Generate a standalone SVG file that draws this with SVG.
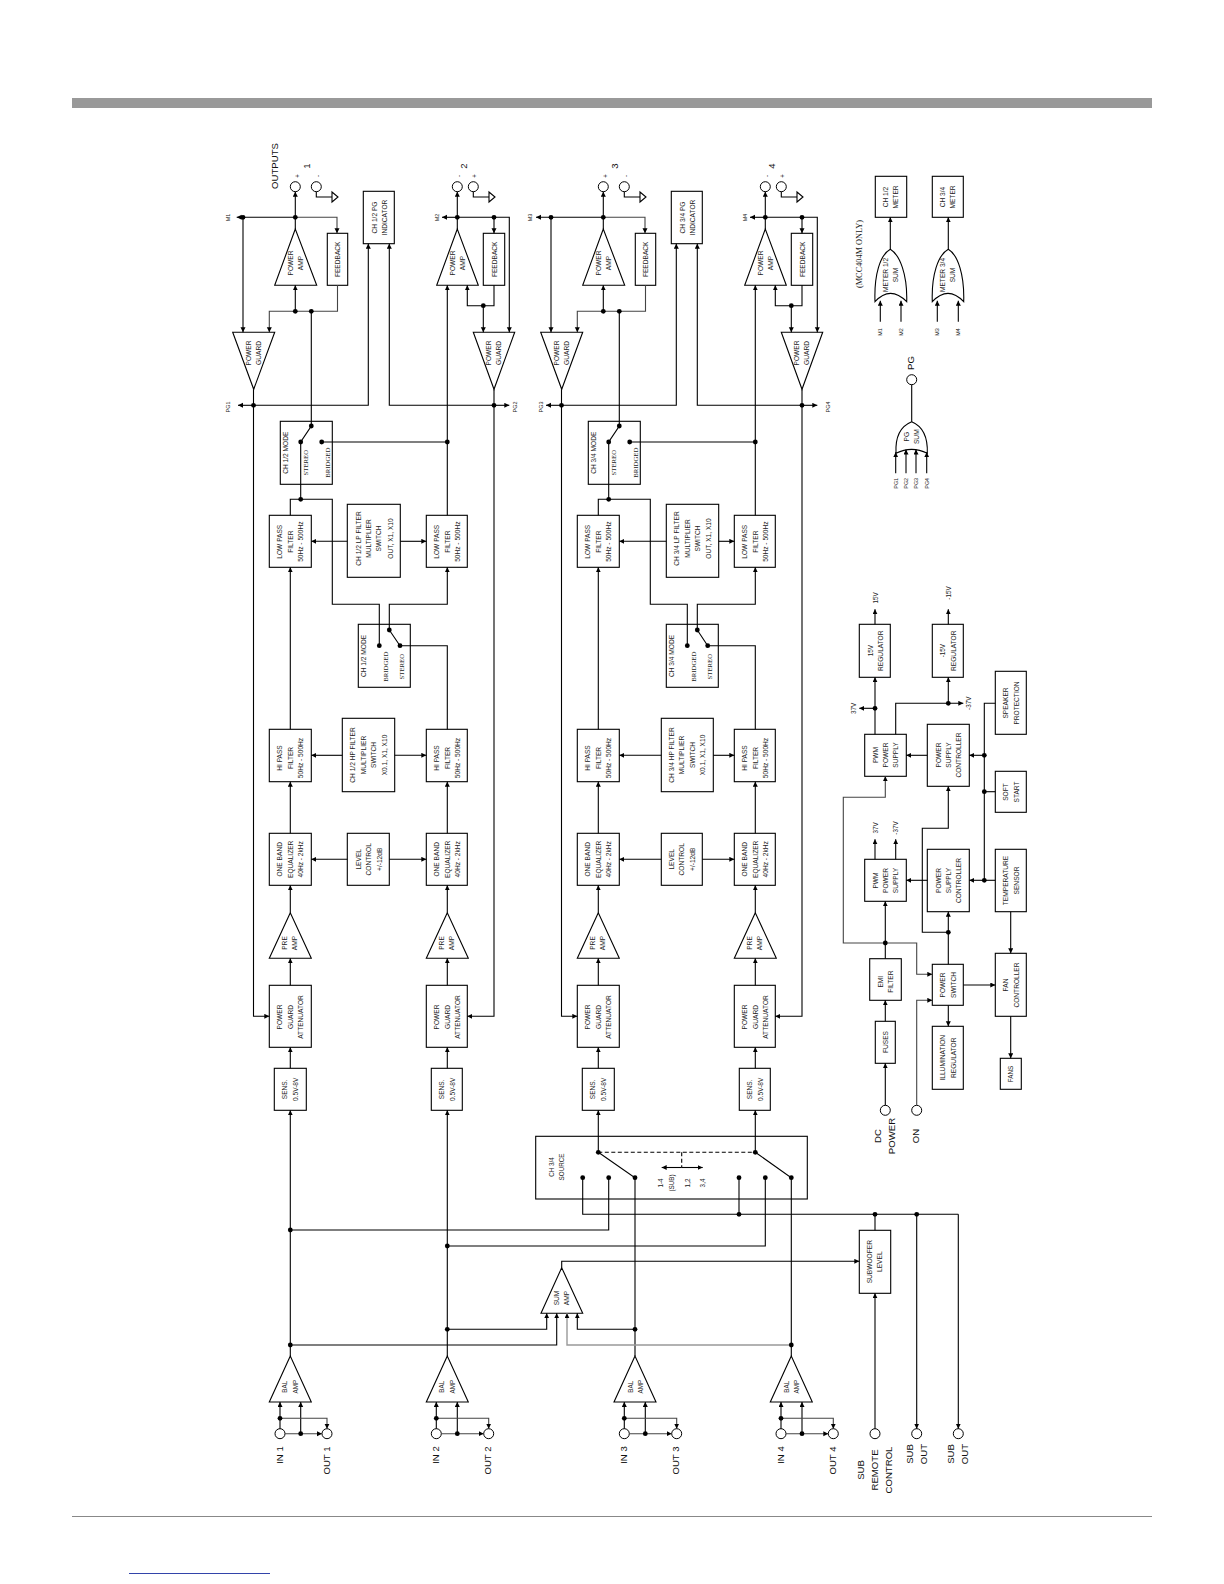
<svg xmlns="http://www.w3.org/2000/svg" width="1224" height="1584" viewBox="0 0 1224 1584">
<style>
text{font-family:"Liberation Sans",Arial,sans-serif;font-size:6.6px;fill:#222;text-anchor:middle;dominant-baseline:central}
.s{font-size:6.3px}
.p{font-size:5.4px}
.r{font-family:"Liberation Serif","Times New Roman",serif;font-size:6.8px}
.b{font-size:9.6px;fill:#111;dominant-baseline:middle}
.m{font-family:"Liberation Serif","Times New Roman",serif;font-size:8.3px}
rect,polygon,.g{fill:none;stroke:#000;stroke-width:1.1}
.k{fill:#fff;stroke:#000;stroke-width:1}
#connectors path{fill:none;stroke:#000;stroke-width:1.1}
#connectors .a{marker-end:url(#ar)}
#connectors .n{stroke:#444}
#connectors .h{stroke:#999;stroke-width:1.4}
#connectors .d{stroke-dasharray:4 2.5}
#connectors circle{fill:#000;stroke:none}
</style>
<defs>
<marker id="ar" markerUnits="userSpaceOnUse" markerWidth="6" markerHeight="6" refX="5" refY="2.5" orient="auto"><path d="M0 0L5 2.5L0 5Z" fill="#000" stroke="none"/></marker>
</defs>
<rect id="header-bar" x="72" y="98" width="1080" height="10" style="fill:#999;stroke:none"/>
<path id="footer-line" d="M72 1516.5H1152" fill="none" stroke="#888" stroke-width="1"/>
<path id="footer-link" d="M129 1573.5H270" fill="none" stroke="#3344aa" stroke-width="1"/>

<g id="outputs-1"><text class="b" transform="translate(275 166) rotate(-90)">OUTPUTS</text><text class="b" transform="translate(307 166) rotate(-90)">1</text><text class="s" transform="translate(297 176) rotate(-90)">+</text><text class="s" transform="translate(317 176) rotate(-90)">-</text><circle class="k" cx="295.3" cy="186.7" r="5"/><circle class="k" cx="316.3" cy="186.7" r="5"/><polygon points="332,192 332,202 338,197"/></g>
<g id="outputs-2"><text class="b" transform="translate(464 166) rotate(-90)">2</text><text class="s" transform="translate(458 176) rotate(-90)">-</text><text class="s" transform="translate(474 176) rotate(-90)">+</text><circle class="k" cx="457.3" cy="186.7" r="5"/><circle class="k" cx="473.3" cy="186.7" r="5"/><polygon points="489,192 489,202 495,197"/></g>
<g id="outputs-3"><text class="b" transform="translate(615 166) rotate(-90)">3</text><text class="s" transform="translate(605 176) rotate(-90)">+</text><text class="s" transform="translate(625 176) rotate(-90)">-</text><circle class="k" cx="603.3" cy="186.7" r="5"/><circle class="k" cx="624.3" cy="186.7" r="5"/><polygon points="640,192 640,202 646,197"/></g>
<g id="outputs-4"><text class="b" transform="translate(772 166) rotate(-90)">4</text><text class="s" transform="translate(766 176) rotate(-90)">-</text><text class="s" transform="translate(782 176) rotate(-90)">+</text><circle class="k" cx="765.3" cy="186.7" r="5"/><circle class="k" cx="781.3" cy="186.7" r="5"/><polygon points="797,192 797,202 803,197"/></g>

<g id="labels-mpg"><text class="p" transform="translate(228 217.5) rotate(-90)">M1</text><text class="p" transform="translate(436.7 217.5) rotate(-90)">M2</text><text class="p" transform="translate(530 217.5) rotate(-90)">M3</text><text class="p" transform="translate(745 217.5) rotate(-90)">M4</text><text class="p" transform="translate(228 407) rotate(-90)">PG1</text><text class="p" transform="translate(515 407) rotate(-90)">PG2</text><text class="p" transform="translate(541 407) rotate(-90)">PG3</text><text class="p" transform="translate(828 407) rotate(-90)">PG4</text></g>

<g id="power-amp-1"><polygon points="295.3,229 274.7,285.3 316.7,285.3"/><text transform="translate(290 263) rotate(-90)">POWER</text><text transform="translate(300.7 263) rotate(-90)">AMP</text></g>
<g id="power-amp-2"><polygon points="457.3,229 436.7,285.3 478.3,285.3"/><text transform="translate(452 263) rotate(-90)">POWER</text><text transform="translate(462.7 263) rotate(-90)">AMP</text></g>
<g id="power-amp-3"><polygon points="603.3,229 582.7,285.3 624.7,285.3"/><text transform="translate(598 263) rotate(-90)">POWER</text><text transform="translate(608.7 263) rotate(-90)">AMP</text></g>
<g id="power-amp-4"><polygon points="765.3,229 744.7,285.3 786.3,285.3"/><text transform="translate(760 263) rotate(-90)">POWER</text><text transform="translate(770.7 263) rotate(-90)">AMP</text></g>

<g id="feedback-1"><rect x="327.3" y="233.3" width="20.4" height="52"/><text transform="translate(337.5 259.3) rotate(-90)">FEEDBACK</text></g>
<g id="feedback-2"><rect x="483.3" y="233.3" width="21.4" height="52"/><text transform="translate(494 259.3) rotate(-90)">FEEDBACK</text></g>
<g id="feedback-3"><rect x="635.3" y="233.3" width="20.4" height="52"/><text transform="translate(645.5 259.3) rotate(-90)">FEEDBACK</text></g>
<g id="feedback-4"><rect x="791.3" y="233.3" width="21.4" height="52"/><text transform="translate(802 259.3) rotate(-90)">FEEDBACK</text></g>

<g id="pg-indicator-12"><rect x="363.3" y="191.3" width="31" height="52.4"/><text transform="translate(374 217.5) rotate(-90)">CH 1/2 PG</text><text transform="translate(384 217.5) rotate(-90)">INDICATOR</text></g>
<g id="pg-indicator-34"><rect x="671.3" y="191.3" width="31" height="52.4"/><text transform="translate(682 217.5) rotate(-90)">CH 3/4 PG</text><text transform="translate(692 217.5) rotate(-90)">INDICATOR</text></g>

<g id="power-guard-1"><polygon points="232.7,332.3 274.7,332.3 253.7,389.3"/><text transform="translate(248 353) rotate(-90)">POWER</text><text transform="translate(258 353) rotate(-90)">GUARD</text></g>
<g id="power-guard-2"><polygon points="473.3,332.3 514.7,332.3 494,389.3"/><text transform="translate(488.5 353) rotate(-90)">POWER</text><text transform="translate(498.5 353) rotate(-90)">GUARD</text></g>
<g id="power-guard-3"><polygon points="540.7,332.3 582.7,332.3 561.7,389.3"/><text transform="translate(556 353) rotate(-90)">POWER</text><text transform="translate(566 353) rotate(-90)">GUARD</text></g>
<g id="power-guard-4"><polygon points="781.3,332.3 822.7,332.3 802,389.3"/><text transform="translate(796.5 353) rotate(-90)">POWER</text><text transform="translate(806.5 353) rotate(-90)">GUARD</text></g>

<g id="mode-12-a"><rect x="280.3" y="421.3" width="52" height="63"/><text transform="translate(285.5 452.7) rotate(-90)">CH 1/2 MODE</text><text class="r" transform="translate(305.7 462.7) rotate(-90)">STEREO</text><text class="r" transform="translate(327 462.7) rotate(-90)">BRIDGED</text></g>
<g id="mode-34-a"><rect x="588.3" y="421.3" width="52" height="63"/><text transform="translate(593.5 452.7) rotate(-90)">CH 3/4 MODE</text><text class="r" transform="translate(613.7 462.7) rotate(-90)">STEREO</text><text class="r" transform="translate(635 462.7) rotate(-90)">BRIDGED</text></g>
<g id="mode-12-b"><rect x="358.3" y="624.3" width="52" height="63"/><text transform="translate(363.5 656) rotate(-90)">CH 1/2 MODE</text><text class="r" transform="translate(385.7 666.7) rotate(-90)">BRIDGED</text><text class="r" transform="translate(401 666.7) rotate(-90)">STEREO</text></g>
<g id="mode-34-b"><rect x="666.3" y="624.3" width="52" height="63"/><text transform="translate(671 656) rotate(-90)">CH 3/4 MODE</text><text class="r" transform="translate(693.3 666.7) rotate(-90)">BRIDGED</text><text class="r" transform="translate(709.3 666.7) rotate(-90)">STEREO</text></g>

<g id="lpf-1"><rect x="269.3" y="515.3" width="42" height="52"/><text transform="translate(279.3 541.7) rotate(-90)">LOW PASS</text><text transform="translate(290 541.7) rotate(-90)">FILTER</text><text transform="translate(300.7 541.7) rotate(-90)">50Hz - 500Hz</text></g>
<g id="lpf-2"><rect x="426.3" y="515.3" width="41" height="52"/><text transform="translate(436.5 541.7) rotate(-90)">LOW PASS</text><text transform="translate(447 541.7) rotate(-90)">FILTER</text><text transform="translate(457.5 541.7) rotate(-90)">50Hz - 500Hz</text></g>
<g id="lpf-3"><rect x="577.3" y="515.3" width="42" height="52"/><text transform="translate(587.3 541.7) rotate(-90)">LOW PASS</text><text transform="translate(598 541.7) rotate(-90)">FILTER</text><text transform="translate(608.7 541.7) rotate(-90)">50Hz - 500Hz</text></g>
<g id="lpf-4"><rect x="734.3" y="515.3" width="41" height="52"/><text transform="translate(744.5 541.7) rotate(-90)">LOW PASS</text><text transform="translate(755 541.7) rotate(-90)">FILTER</text><text transform="translate(765.5 541.7) rotate(-90)">50Hz - 500Hz</text></g>

<g id="lp-mult-12"><rect x="347.3" y="504.3" width="53" height="73"/><text transform="translate(358.3 538.5) rotate(-90)">CH 1/2 LP FILTER</text><text transform="translate(368.5 538.5) rotate(-90)">MULTIPLIER</text><text transform="translate(378.5 538.5) rotate(-90)">SWITCH</text><text transform="translate(390 538.5) rotate(-90)">OUT, X1, X10</text></g>
<g id="lp-mult-34"><rect x="666.3" y="504.3" width="52.4" height="73"/><text transform="translate(676.7 538.5) rotate(-90)">CH 3/4 LP FILTER</text><text transform="translate(687.3 538.5) rotate(-90)">MULTIPLIER</text><text transform="translate(697.7 538.5) rotate(-90)">SWITCH</text><text transform="translate(708.3 538.5) rotate(-90)">OUT, X1, X10</text></g>

<g id="hpf-1"><rect x="269.3" y="729.3" width="42" height="52.4"/><text transform="translate(279.3 758) rotate(-90)">HI PASS</text><text transform="translate(290 758) rotate(-90)">FILTER</text><text transform="translate(300.7 758) rotate(-90)">50Hz - 500Hz</text></g>
<g id="hpf-2"><rect x="426.3" y="729.3" width="41" height="52.4"/><text transform="translate(436.5 758) rotate(-90)">HI PASS</text><text transform="translate(447 758) rotate(-90)">FILTER</text><text transform="translate(457.5 758) rotate(-90)">50Hz - 500Hz</text></g>
<g id="hpf-3"><rect x="577.3" y="729.3" width="42" height="52.4"/><text transform="translate(587.3 758) rotate(-90)">HI PASS</text><text transform="translate(598 758) rotate(-90)">FILTER</text><text transform="translate(608.7 758) rotate(-90)">50Hz - 500Hz</text></g>
<g id="hpf-4"><rect x="734.3" y="729.3" width="41" height="52.4"/><text transform="translate(744.5 758) rotate(-90)">HI PASS</text><text transform="translate(755 758) rotate(-90)">FILTER</text><text transform="translate(765.5 758) rotate(-90)">50Hz - 500Hz</text></g>

<g id="hp-mult-12"><rect x="342.3" y="718.3" width="52.4" height="73.4"/><text transform="translate(352.7 755) rotate(-90)">CH 1/2 HP FILTER</text><text transform="translate(363 755) rotate(-90)">MULTIPLIER</text><text transform="translate(373.5 755) rotate(-90)">SWITCH</text><text transform="translate(384 755) rotate(-90)">X0.1, X1, X10</text></g>
<g id="hp-mult-34"><rect x="661.3" y="718.3" width="52" height="73.4"/><text transform="translate(671.7 755) rotate(-90)">CH 3/4 HP FILTER</text><text transform="translate(681.7 755) rotate(-90)">MULTIPLIER</text><text transform="translate(692 755) rotate(-90)">SWITCH</text><text transform="translate(702.7 755) rotate(-90)">X0.1, X1, X10</text></g>

<g id="eq-1"><rect x="269.3" y="833.3" width="42" height="52"/><text transform="translate(279.3 859.3) rotate(-90)">ONE BAND</text><text transform="translate(290 859.3) rotate(-90)">EQUALIZER</text><text transform="translate(300.7 859.3) rotate(-90)">40Hz - 2kHz</text></g>
<g id="eq-2"><rect x="426.3" y="833.3" width="41" height="52"/><text transform="translate(436.5 859.3) rotate(-90)">ONE BAND</text><text transform="translate(447 859.3) rotate(-90)">EQUALIZER</text><text transform="translate(457.5 859.3) rotate(-90)">40Hz - 2kHz</text></g>
<g id="eq-3"><rect x="577.3" y="833.3" width="42" height="52"/><text transform="translate(587.3 859.3) rotate(-90)">ONE BAND</text><text transform="translate(598 859.3) rotate(-90)">EQUALIZER</text><text transform="translate(608.7 859.3) rotate(-90)">40Hz - 2kHz</text></g>
<g id="eq-4"><rect x="734.3" y="833.3" width="41" height="52"/><text transform="translate(744.5 859.3) rotate(-90)">ONE BAND</text><text transform="translate(755 859.3) rotate(-90)">EQUALIZER</text><text transform="translate(765.5 859.3) rotate(-90)">40Hz - 2kHz</text></g>

<g id="level-12"><rect x="347.3" y="833.3" width="42" height="52"/><text transform="translate(358 859.3) rotate(-90)">LEVEL</text><text transform="translate(368.7 859.3) rotate(-90)">CONTROL</text><text transform="translate(379.5 859.3) rotate(-90)">+/-12dB</text></g>
<g id="level-34"><rect x="661.3" y="833.3" width="41" height="52"/><text transform="translate(671.7 859.3) rotate(-90)">LEVEL</text><text transform="translate(681.7 859.3) rotate(-90)">CONTROL</text><text transform="translate(692.7 859.3) rotate(-90)">+/-12dB</text></g>

<g id="pre-1"><polygon points="290.3,912.7 269.3,958.3 311.3,958.3"/><text transform="translate(284.5 943) rotate(-90)">PRE</text><text transform="translate(294.5 943) rotate(-90)">AMP</text></g>
<g id="pre-2"><polygon points="447.3,912.7 426.3,958.3 468.3,958.3"/><text transform="translate(441.5 943) rotate(-90)">PRE</text><text transform="translate(451.5 943) rotate(-90)">AMP</text></g>
<g id="pre-3"><polygon points="598.3,912.7 577.3,958.3 619.3,958.3"/><text transform="translate(592.5 943) rotate(-90)">PRE</text><text transform="translate(602.5 943) rotate(-90)">AMP</text></g>
<g id="pre-4"><polygon points="755.3,912.7 734.3,958.3 776.3,958.3"/><text transform="translate(749.5 943) rotate(-90)">PRE</text><text transform="translate(759.5 943) rotate(-90)">AMP</text></g>

<g id="att-1"><rect x="269.3" y="985.3" width="42" height="62"/><text transform="translate(279.3 1017) rotate(-90)">POWER</text><text transform="translate(290 1017) rotate(-90)">GUARD</text><text transform="translate(300.7 1017) rotate(-90)">ATTENUATOR</text></g>
<g id="att-2"><rect x="426.3" y="985.3" width="41" height="62"/><text transform="translate(436.5 1017) rotate(-90)">POWER</text><text transform="translate(447 1017) rotate(-90)">GUARD</text><text transform="translate(457.5 1017) rotate(-90)">ATTENUATOR</text></g>
<g id="att-3"><rect x="577.3" y="985.3" width="42" height="62"/><text transform="translate(587.3 1017) rotate(-90)">POWER</text><text transform="translate(598 1017) rotate(-90)">GUARD</text><text transform="translate(608.7 1017) rotate(-90)">ATTENUATOR</text></g>
<g id="att-4"><rect x="734.3" y="985.3" width="41" height="62"/><text transform="translate(744.5 1017) rotate(-90)">POWER</text><text transform="translate(755 1017) rotate(-90)">GUARD</text><text transform="translate(765.5 1017) rotate(-90)">ATTENUATOR</text></g>

<g id="sens-1"><rect x="274.3" y="1068.3" width="32" height="42"/><text transform="translate(284.7 1089.3) rotate(-90)">SENS.</text><text transform="translate(295 1089.3) rotate(-90)">0.5V-8V</text></g>
<g id="sens-2"><rect x="431.3" y="1068.3" width="31" height="42"/><text transform="translate(441.7 1089.3) rotate(-90)">SENS.</text><text transform="translate(452 1089.3) rotate(-90)">0.5V-8V</text></g>
<g id="sens-3"><rect x="582.3" y="1068.3" width="32" height="42"/><text transform="translate(592.7 1089.3) rotate(-90)">SENS.</text><text transform="translate(603 1089.3) rotate(-90)">0.5V-8V</text></g>
<g id="sens-4"><rect x="739.3" y="1068.3" width="31" height="42"/><text transform="translate(749.7 1089.3) rotate(-90)">SENS.</text><text transform="translate(760 1089.3) rotate(-90)">0.5V-8V</text></g>

<g id="source-34"><rect x="535.7" y="1136.3" width="271.6" height="62.7"/><text class="s" transform="translate(551 1167) rotate(-90)">CH 3/4</text><text class="s" transform="translate(561 1167) rotate(-90)">SOURCE</text><text class="s" transform="translate(660.7 1183) rotate(-90)">1-4</text><text class="s" transform="translate(671 1183) rotate(-90)">(SUB)</text><text class="s" transform="translate(687 1183) rotate(-90)">1,2</text><text class="s" transform="translate(702 1183) rotate(-90)">3,4</text></g>

<g id="sum-amp"><polygon points="561.7,1267.7 541,1313.3 582.7,1313.3"/><text transform="translate(556.5 1298) rotate(-90)">SUM</text><text transform="translate(566.5 1298) rotate(-90)">AMP</text></g>
<g id="subwoofer-level"><rect x="859.3" y="1230.3" width="31.4" height="63"/><text transform="translate(869.5 1261.7) rotate(-90)">SUBWOOFER</text><text transform="translate(879.5 1261.7) rotate(-90)">LEVEL</text></g>

<g id="bal-1"><polygon points="290.3,1356 269.3,1402 311.3,1402"/><text class="s" transform="translate(284.5 1386.7) rotate(-90)">BAL</text><text class="s" transform="translate(295 1386.7) rotate(-90)">AMP</text></g>
<g id="bal-2"><polygon points="447.3,1356 426.3,1402 468.3,1402"/><text class="s" transform="translate(441.5 1386.7) rotate(-90)">BAL</text><text class="s" transform="translate(452 1386.7) rotate(-90)">AMP</text></g>
<g id="bal-3"><polygon points="635,1356 614,1402 656,1402"/><text class="s" transform="translate(630 1386.7) rotate(-90)">BAL</text><text class="s" transform="translate(640 1386.7) rotate(-90)">AMP</text></g>
<g id="bal-4"><polygon points="791.3,1356 770.3,1402 812.3,1402"/><text class="s" transform="translate(786 1386.7) rotate(-90)">BAL</text><text class="s" transform="translate(796.5 1386.7) rotate(-90)">AMP</text></g>

<g id="in-1"><circle class="k" cx="280" cy="1433.7" r="5"/><text class="b" transform="translate(280 1455) rotate(-90)">IN 1</text></g>
<g id="out-1"><circle class="k" cx="327" cy="1433.7" r="5"/><text class="b" transform="translate(327 1460.5) rotate(-90)">OUT 1</text></g>
<g id="in-2"><circle class="k" cx="436.3" cy="1433.7" r="5"/><text class="b" transform="translate(436.3 1455) rotate(-90)">IN 2</text></g>
<g id="out-2"><circle class="k" cx="488.7" cy="1433.7" r="5"/><text class="b" transform="translate(488.7 1460.5) rotate(-90)">OUT 2</text></g>
<g id="in-3"><circle class="k" cx="624.3" cy="1433.7" r="5"/><text class="b" transform="translate(624.3 1455) rotate(-90)">IN 3</text></g>
<g id="out-3"><circle class="k" cx="676.7" cy="1433.7" r="5"/><text class="b" transform="translate(676.7 1460.5) rotate(-90)">OUT 3</text></g>
<g id="in-4"><circle class="k" cx="781" cy="1433.7" r="5"/><text class="b" transform="translate(781 1455) rotate(-90)">IN 4</text></g>
<g id="out-4"><circle class="k" cx="833.3" cy="1433.7" r="5"/><text class="b" transform="translate(833.3 1460.5) rotate(-90)">OUT 4</text></g>
<g id="sub-remote"><circle class="k" cx="875" cy="1433.7" r="5"/><text class="b" transform="translate(861 1470) rotate(-90)">SUB</text><text class="b" transform="translate(875 1470) rotate(-90)">REMOTE</text><text class="b" transform="translate(889 1470) rotate(-90)">CONTROL</text></g>
<g id="sub-out-1"><circle class="k" cx="916.7" cy="1433.7" r="5"/><text class="b" transform="translate(910 1454) rotate(-90)">SUB</text><text class="b" transform="translate(924 1454) rotate(-90)">OUT</text></g>
<g id="sub-out-2"><circle class="k" cx="958.3" cy="1433.7" r="5"/><text class="b" transform="translate(951.7 1454) rotate(-90)">SUB</text><text class="b" transform="translate(965 1454) rotate(-90)">OUT</text></g>

<g id="meter-note"><text class="m" transform="translate(859.3 254) rotate(-90)">(MCC404M ONLY)</text></g>
<g id="meter-12"><rect x="875.3" y="176.3" width="31.4" height="41"/><text transform="translate(885.7 197) rotate(-90)">CH 1/2</text><text transform="translate(895.7 197) rotate(-90)">METER</text></g>
<g id="meter-34"><rect x="932.3" y="176.3" width="31" height="41"/><text transform="translate(942.5 197) rotate(-90)">CH 3/4</text><text transform="translate(952.7 197) rotate(-90)">METER</text></g>
<g id="meter-sum-12"><path class="g" d="M875 301.7C874 275 880 255 890.3 249.3C900 255 907.5 275 906.7 301.7Q890.3 285 875 301.7Z"/><text transform="translate(885 275) rotate(-90)">METER 1/2</text><text transform="translate(895.3 275) rotate(-90)">SUM</text><text class="p" transform="translate(880.3 332) rotate(-90)">M1</text><text class="p" transform="translate(900.5 332) rotate(-90)">M2</text></g>
<g id="meter-sum-34"><path class="g" d="M932.3 301.7C931.3 275 938 255 948.3 249.3C958 255 964.5 275 963.7 301.7Q948 285 932.3 301.7Z"/><text transform="translate(942 275) rotate(-90)">METER 3/4</text><text transform="translate(952.5 275) rotate(-90)">SUM</text><text class="p" transform="translate(937.3 332) rotate(-90)">M3</text><text class="p" transform="translate(958.3 332) rotate(-90)">M4</text></g>
<g id="pg-sum"><path class="g" d="M896 453.3C895 435 901 426 911.7 421.7C922 426 928 435 927.3 453.3Q911.7 445.5 896 453.3Z"/><text transform="translate(906 436.7) rotate(-90)">PG</text><text transform="translate(916.3 436.7) rotate(-90)">SUM</text><text class="p" transform="translate(895.7 483.3) rotate(-90)">PG1</text><text class="p" transform="translate(906 483.3) rotate(-90)">PG2</text><text class="p" transform="translate(916 483.3) rotate(-90)">PG3</text><text class="p" transform="translate(926.7 483.3) rotate(-90)">PG4</text></g>
<g id="pg-out"><circle class="k" cx="911.7" cy="379.7" r="5"/><text class="b" transform="translate(911.7 363) rotate(-90)">PG</text></g>

<g id="reg-15"><rect x="859.3" y="624.3" width="31" height="53"/><text class="s" transform="translate(870 650.7) rotate(-90)">15V</text><text transform="translate(880 650.7) rotate(-90)">REGULATOR</text></g>
<g id="reg-m15"><rect x="932.3" y="624.3" width="31" height="53"/><text class="s" transform="translate(942.6 650.7) rotate(-90)">-15V</text><text transform="translate(953 650.7) rotate(-90)">REGULATOR</text></g>
<g id="psu-labels"><text class="s" transform="translate(875 598) rotate(-90)">15V</text><text class="s" transform="translate(948.3 593) rotate(-90)">-15V</text><text class="s" transform="translate(853.3 708.5) rotate(-90)">37V</text><text class="s" transform="translate(968.3 703.3) rotate(-90)">-37V</text><text class="s" transform="translate(875 828) rotate(-90)">37V</text><text class="s" transform="translate(895.7 828) rotate(-90)">-37V</text></g>
<g id="pwm-a"><rect x="864.7" y="734.3" width="41.6" height="42"/><text transform="translate(875 755) rotate(-90)">PWM</text><text transform="translate(885.3 755) rotate(-90)">POWER</text><text transform="translate(895.7 755) rotate(-90)">SUPPLY</text></g>
<g id="pwm-b"><rect x="864.7" y="859.3" width="41.6" height="42"/><text transform="translate(875 880.5) rotate(-90)">PWM</text><text transform="translate(885.3 880.5) rotate(-90)">POWER</text><text transform="translate(895.7 880.5) rotate(-90)">SUPPLY</text></g>
<g id="psc-a"><rect x="927.3" y="724.3" width="42" height="62"/><text transform="translate(938 755) rotate(-90)">POWER</text><text transform="translate(948.3 755) rotate(-90)">SUPPLY</text><text transform="translate(958.7 755) rotate(-90)">CONTROLLER</text></g>
<g id="psc-b"><rect x="927.3" y="849.3" width="42" height="62.4"/><text transform="translate(938 880.5) rotate(-90)">POWER</text><text transform="translate(948.3 880.5) rotate(-90)">SUPPLY</text><text transform="translate(958.7 880.5) rotate(-90)">CONTROLLER</text></g>
<g id="speaker-prot"><rect x="995.3" y="671.3" width="31" height="63"/><text transform="translate(1005.7 703) rotate(-90)">SPEAKER</text><text transform="translate(1016 703) rotate(-90)">PROTECTION</text></g>
<g id="soft-start"><rect x="995.3" y="771.3" width="31" height="41"/><text transform="translate(1005.7 792) rotate(-90)">SOFT</text><text transform="translate(1016 792) rotate(-90)">START</text></g>
<g id="temp-sensor"><rect x="995.3" y="849.3" width="31" height="62.4"/><text transform="translate(1005.7 880.5) rotate(-90)">TEMPERATURE</text><text transform="translate(1016 880.5) rotate(-90)">SENSOR</text></g>
<g id="emi"><rect x="869.7" y="958.7" width="31.6" height="41.6"/><text transform="translate(880 981.7) rotate(-90)">EMI</text><text transform="translate(890 981.7) rotate(-90)">FILTER</text></g>
<g id="fuses"><rect x="875.3" y="1021.3" width="20" height="42"/><text transform="translate(885.3 1042) rotate(-90)">FUSES</text></g>
<g id="power-switch"><rect x="932.3" y="964.3" width="31" height="41"/><text transform="translate(942.7 985) rotate(-90)">POWER</text><text transform="translate(953 985) rotate(-90)">SWITCH</text></g>
<g id="illum-reg"><rect x="932.3" y="1026.3" width="31" height="63"/><text transform="translate(942.7 1057.7) rotate(-90)">ILLUMINATION</text><text transform="translate(953 1057.7) rotate(-90)">REGULATOR</text></g>
<g id="fan-ctrl"><rect x="995.3" y="953.3" width="31" height="63"/><text transform="translate(1005.7 985) rotate(-90)">FAN</text><text transform="translate(1016 985) rotate(-90)">CONTROLLER</text></g>
<g id="fans"><rect x="1000.3" y="1058.3" width="21" height="31"/><text class="s" transform="translate(1010.7 1074) rotate(-90)">FANS</text></g>
<g id="dc-power"><circle class="k" cx="885.3" cy="1110.3" r="5"/><text class="b" transform="translate(878.7 1136) rotate(-90)">DC</text><text class="b" transform="translate(892.3 1136) rotate(-90)">POWER</text></g>
<g id="on"><circle class="k" cx="916.7" cy="1110.3" r="5"/><text class="b" transform="translate(916.7 1136) rotate(-90)">ON</text></g>

<g id="connectors">
<path class="a" d="M295.3 229V191.7"/><path class="a" d="M295.3 217.3H236.7"/><path class="a n" d="M295.3 217.3H337V233.3"/><path class="a" d="M243 217.3V332.3"/>
<path class="a" d="M295.3 311.3V285.3"/><path class="a n" d="M337.5 285.3V311.3H269.3V332.3"/><path class="a" d="M253.5 389.3V1016.3H269.3"/><path class="a" d="M253.5 405.3H238"/><path class="a" d="M253.5 405.3H368.3V243.7"/>
<path d="M311.3 311.3V426L300.7 442V499.3"/><path d="M316.3 191.7V197H332"/>
<path class="a" d="M457.3 229V191.7"/><path class="a" d="M457.3 217.3H442"/><path class="a" d="M457.3 217.3H509.3V332.3"/><path class="a" d="M494 217.3V233.3"/>
<path class="a" d="M494 285.3V305.7H467.3V285.3"/><path class="a" d="M483.3 305.7V332.3"/><path class="a" d="M494 389.3V1016.3H467.3"/><path class="a" d="M494 405.3H509.3"/><path class="a" d="M494 405.3H389.3V243.7"/>
<path d="M321.7 442H447.3"/><path class="a" d="M447.3 515.3V285.3"/><path d="M473.3 191.7V197H489"/>
<path class="a" d="M603.3 229V191.7"/><path class="a" d="M603.3 217.3H536"/><path class="a n" d="M603.3 217.3H645V233.3"/><path class="a" d="M551 217.3V332.3"/>
<path class="a" d="M603.3 311.3V285.3"/><path class="a n" d="M645.5 285.3V311.3H577.3V332.3"/><path class="a" d="M561.5 389.3V1016.3H577.3"/><path class="a" d="M561.5 405.3H546"/><path class="a" d="M561.5 405.3H676.3V243.7"/>
<path d="M619.3 311.3V426L608.7 442V499.3"/><path d="M624.3 191.7V197H640"/>
<path class="a" d="M765.3 229V191.7"/><path class="a" d="M765.3 217.3H750"/><path class="a" d="M765.3 217.3H817.3V332.3"/><path class="a" d="M802 217.3V233.3"/>
<path class="a" d="M802 285.3V305.7H775.3V285.3"/><path class="a" d="M791.3 305.7V332.3"/><path class="a" d="M802 389.3V1016.3H775.3"/><path class="a" d="M802 405.3H817.3"/><path class="a" d="M802 405.3H697.3V243.7"/>
<path d="M629.7 442H755.3"/><path class="a" d="M755.3 515.3V285.3"/><path d="M781.3 191.7V197H797"/>
<path d="M290.3 515.3V499.3H332.3V604.3H379.3V645.7"/><path class="a" d="M389.3 630V604.3H447.3V567.3"/><path d="M389.3 630L400 645.7H447.3V729.3"/>
<path d="M598.3 515.3V499.3H650.3V604.3H687.3V645.7"/><path class="a" d="M697.3 630V604.3H755.3V567.3"/><path d="M697.3 630L707.7 645.7H755.3V729.3"/>
<path class="a" d="M290.3 729.3V567.3"/><path class="a" d="M290.3 833.3V781.7"/><path class="a" d="M290.3 912.7V885.3"/><path class="a" d="M290.3 985.3V958.3"/><path class="a" d="M290.3 1068.3V1047.3"/><path class="a" d="M290.3 1356V1110.3"/>
<path class="a" d="M447.3 833.3V781.7"/><path class="a" d="M447.3 912.7V885.3"/><path class="a" d="M447.3 985.3V958.3"/><path class="a" d="M447.3 1068.3V1047.3"/><path class="a" d="M447.3 1356V1110.3"/>
<path class="a" d="M598.3 729.3V567.3"/><path class="a" d="M598.3 833.3V781.7"/><path class="a" d="M598.3 912.7V885.3"/><path class="a" d="M598.3 985.3V958.3"/><path class="a" d="M598.3 1068.3V1047.3"/><path class="a" d="M598.3 1152.3V1110.3"/>
<path class="a" d="M755.3 833.3V781.7"/><path class="a" d="M755.3 912.7V885.3"/><path class="a" d="M755.3 985.3V958.3"/><path class="a" d="M755.3 1068.3V1047.3"/><path class="a" d="M755.3 1152.3V1110.3"/>
<path class="a" d="M347.3 541.3H311.3"/><path class="a" d="M400.3 541.3H426.3"/><path class="a" d="M342.3 755.3H311.3"/><path class="a" d="M394.7 755.3H426.3"/><path class="a" d="M347.3 859.3H311.3"/><path class="a" d="M389.3 859.3H426.3"/>
<path class="a" d="M666.3 541.3H619.3"/><path class="a" d="M718.7 541.3H734.3"/><path class="a" d="M661.3 755.3H619.3"/><path class="a" d="M713.3 755.3H734.3"/><path class="a" d="M661.3 859.3H619.3"/><path class="a" d="M702.3 859.3H734.3"/>
<path d="M598.3 1152.3L635 1177.7V1356"/><path d="M755.3 1152.3L791.3 1177.7V1356"/><path class="d" d="M598.3 1152.3H755.3"/><path class="d" d="M681.7 1152.3V1167.5"/>
<path class="a" d="M681.7 1167.5H661.7"/><path class="a" d="M681.7 1167.5H702.7"/>
<path d="M290.3 1230H608.7V1177.7"/><path d="M447.3 1246H765.3V1177.7"/>
<path d="M582.7 1177.7V1214.3H958.3"/><path d="M739 1177.7V1214.3"/><path d="M875 1214.3V1230.3"/>
<path class="a" d="M916.7 1214.3V1428.7"/><path class="a" d="M958.3 1214.3V1428.7"/><path class="a" d="M875 1428.7V1293.3"/>
<path class="a" d="M561.7 1267.7V1261.3H859.3"/>
<path class="a" d="M447.3 1329.3H546.7V1313.3"/><path class="a" d="M290.3 1345H556.7V1313.3"/><path class="a h" d="M791.3 1345H567V1313.3"/><path class="a" d="M635 1329.3H577.3V1313.3"/>
<path class="a n" d="M285 1433.7H322"/><path class="a" d="M300.7 1433.7V1402"/><path class="a" d="M280 1428.7V1402"/><path class="a n" d="M280 1418.3H327V1428.7"/>
<path class="a n" d="M441.3 1433.7H483.7"/><path class="a" d="M457.3 1433.7V1402"/><path class="a" d="M436.3 1428.7V1402"/><path class="a n" d="M436.3 1418.3H488.7V1428.7"/>
<path class="a n" d="M629.3 1433.7H671.7"/><path class="a" d="M645.3 1433.7V1402"/><path class="a" d="M624.3 1428.7V1402"/><path class="a n" d="M624.3 1418.3H676.7V1428.7"/>
<path class="a n" d="M786 1433.7H828.3"/><path class="a" d="M802 1433.7V1402"/><path class="a" d="M781 1428.7V1402"/><path class="a n" d="M781 1418.3H833.3V1428.7"/>
<path class="a" d="M890.3 249.3V217.3"/><path class="a" d="M948.3 249.3V217.3"/>
<path class="a" d="M880.3 321.7V300.7"/><path class="a" d="M901 321.7V300.7"/><path class="a" d="M937.3 321.7V300.7"/><path class="a" d="M958.3 321.7V300.7"/>
<path d="M911.7 384.7V421.7"/><path class="a" d="M895.7 473.3V452.3"/><path class="a" d="M906 473.3V449.5"/><path class="a" d="M916 473.3V449.5"/><path class="a" d="M926.7 473.3V452.3"/>
<path class="a" d="M875 734.3V677.3"/><path class="a" d="M875 624.3V609.3"/><path class="a" d="M948.3 624.3V609.3"/><path class="a" d="M875 708.3H859.3"/>
<path class="a" d="M895.7 734.3V703.3H963.3"/><path class="a" d="M948.3 703.3V677.3"/>
<path class="a" d="M927.3 755.3H906.3"/><path class="a" d="M984.3 755.3H969.3"/><path d="M995.3 703.3H984.3V880.3"/><path d="M984.3 791.7H995.3"/><path d="M984.3 880.3H995.3"/>
<path class="a" d="M984.3 880.3H969.3"/><path class="a" d="M927.3 880.3H906.3"/><path class="a" d="M875 859.3V839.3"/><path class="a" d="M895.7 859.3V839.3"/>
<path class="a n" d="M885.3 943H843.3V797.3H885.3V776.3"/><path class="a n" d="M885.3 943H916.7V974.3H932.3"/><path class="a" d="M885.3 958.7V901.3"/>
<path class="a" d="M948.3 932.3H922.3V828.3H948.3V786.3"/><path class="a" d="M948.3 964.3V911.7"/>
<path class="a" d="M885.3 1021.3V1000.3"/><path class="a" d="M885.3 1105.3V1063.3"/><path class="a n" d="M916.7 1105.3V1000.3H932.3"/>
<path class="a" d="M948.3 1005.3V1026.3"/><path class="a" d="M963.3 985H995.3"/><path class="a" d="M1010.7 911.7V953.3"/><path class="a" d="M1010.7 1016.3V1058.3"/>
<g id="dots">
<circle cx="295.3" cy="217.3" r="2.4"/><circle cx="243" cy="217.3" r="2.4"/><circle cx="295.3" cy="311.3" r="2.4"/><circle cx="311.3" cy="311.3" r="2.4"/><circle cx="253.5" cy="405.3" r="2.4"/><circle cx="311.3" cy="426" r="2.4"/><circle cx="300.7" cy="442" r="2.4"/><circle cx="321.7" cy="442" r="2.4"/><circle cx="300.7" cy="499.3" r="2.4"/>
<circle cx="457.3" cy="217.3" r="2.4"/><circle cx="494" cy="217.3" r="2.4"/><circle cx="483.3" cy="305.7" r="2.4"/><circle cx="494" cy="405.3" r="2.4"/><circle cx="447.3" cy="442" r="2.4"/>
<circle cx="603.3" cy="217.3" r="2.4"/><circle cx="551" cy="217.3" r="2.4"/><circle cx="603.3" cy="311.3" r="2.4"/><circle cx="619.3" cy="311.3" r="2.4"/><circle cx="561.5" cy="405.3" r="2.4"/><circle cx="619.3" cy="426" r="2.4"/><circle cx="608.7" cy="442" r="2.4"/><circle cx="629.7" cy="442" r="2.4"/><circle cx="608.7" cy="499.3" r="2.4"/>
<circle cx="765.3" cy="217.3" r="2.4"/><circle cx="802" cy="217.3" r="2.4"/><circle cx="791.3" cy="305.7" r="2.4"/><circle cx="802" cy="405.3" r="2.4"/><circle cx="755.3" cy="442" r="2.4"/>
<circle cx="389.3" cy="630" r="2.4"/><circle cx="400" cy="645.7" r="2.4"/><circle cx="379.3" cy="645.7" r="2.4"/><circle cx="697.3" cy="630" r="2.4"/><circle cx="707.7" cy="645.7" r="2.4"/><circle cx="687.3" cy="645.7" r="2.4"/>
<circle cx="598.3" cy="1152.3" r="2.4"/><circle cx="755.3" cy="1152.3" r="2.4"/><circle cx="582.7" cy="1177.7" r="2.4"/><circle cx="608.7" cy="1177.7" r="2.4"/><circle cx="635" cy="1177.7" r="2.4"/><circle cx="739" cy="1177.7" r="2.4"/><circle cx="765.3" cy="1177.7" r="2.4"/><circle cx="791.3" cy="1177.7" r="2.4"/>
<circle cx="739" cy="1214.3" r="2.4"/><circle cx="875" cy="1214.3" r="2.4"/><circle cx="916.7" cy="1214.3" r="2.4"/>
<circle cx="290.3" cy="1230" r="2.4"/><circle cx="290.3" cy="1345" r="2.4"/><circle cx="447.3" cy="1246" r="2.4"/><circle cx="447.3" cy="1329.3" r="2.4"/><circle cx="635" cy="1329.3" r="2.4"/><circle cx="791.3" cy="1345" r="2.4"/>
<circle cx="300.7" cy="1433.7" r="2.4"/><circle cx="280" cy="1418.3" r="2.4"/><circle cx="457.3" cy="1433.7" r="2.4"/><circle cx="436.3" cy="1418.3" r="2.4"/><circle cx="645.3" cy="1433.7" r="2.4"/><circle cx="624.3" cy="1418.3" r="2.4"/><circle cx="802" cy="1433.7" r="2.4"/><circle cx="781" cy="1418.3" r="2.4"/>
<circle cx="875" cy="708.3" r="2.4"/><circle cx="948.3" cy="703.3" r="2.4"/><circle cx="984.3" cy="755.3" r="2.4"/><circle cx="984.3" cy="791.7" r="2.4"/><circle cx="984.3" cy="880.3" r="2.4"/><circle cx="885.3" cy="943" r="2.4"/><circle cx="948.3" cy="932.3" r="2.4"/>
</g>
</g>
</svg>
